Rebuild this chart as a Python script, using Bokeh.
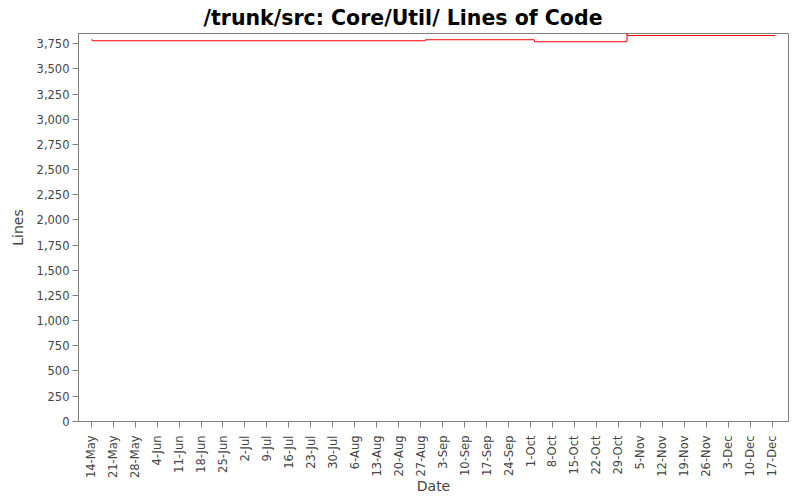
from datetime import datetime
import math
import pandas as pd
from bokeh.plotting import figure
from bokeh.models import Range1d, FixedTicker, SingleIntervalTicker, NumeralTickFormatter
from bokeh.embed import file_html
from bokeh.resources import INLINE

# ---- data ----
title_text = "/trunk/src: Core/Util/ Lines of Code"
x_label = "Date"
y_label = "Lines"

commit_dates = ["2007-05-14 00:00", "2007-05-14 08:00", "2007-08-28 12:00",
                "2007-10-02 06:00", "2007-10-31 18:00", "2007-10-31 22:00",
                "2007-12-18 00:00"]
line_counts = [3790, 3780, 3790, 3770, 3848, 3832, 3832]

tick_labels = ["14-May", "21-May", "28-May", "4-Jun", "11-Jun", "18-Jun", "25-Jun",
               "2-Jul", "9-Jul", "16-Jul", "23-Jul", "30-Jul", "6-Aug", "13-Aug",
               "20-Aug", "27-Aug", "3-Sep", "10-Sep", "17-Sep", "24-Sep", "1-Oct",
               "8-Oct", "15-Oct", "22-Oct", "29-Oct", "5-Nov", "12-Nov", "19-Nov",
               "26-Nov", "3-Dec", "10-Dec", "17-Dec"]
tick_year = "2007"

x_start = datetime(2007, 5, 9, 23)
x_end = datetime(2007, 12, 22, 5)
y_start, y_end = -3, 3852

# ---- derived ----
xs = pd.to_datetime(commit_dates)
tick_dates = pd.to_datetime([t + "-" + tick_year for t in tick_labels], format="%d-%b-%Y")
tick_ms = [float(d.value // 10**6) for d in tick_dates]

FONT = "DejaVu Sans"
GRAY = "#808080"
TXT = "#444444"

p = figure(width=800, height=500, x_axis_type="datetime",
           x_range=Range1d(x_start, x_end), y_range=Range1d(y_start, y_end),
           output_backend="svg", toolbar_location=None,
           min_border_left=78, min_border_right=12, min_border_top=33, min_border_bottom=79)

p.step(xs, line_counts, mode="after", line_color="#ff0000", line_width=1)

p.title.text = title_text
p.title.text_font = FONT
p.title.text_font_size = "20.5px"
p.title.text_font_style = "bold"
p.title.text_color = "#000000"
p.title.align = "left"
p.title.offset = 125
p.title.standoff = 7

p.grid.visible = False
p.outline_line_color = GRAY
p.background_fill_color = "white"
p.border_fill_color = "white"

for ax in (p.xaxis[0], p.yaxis[0]):
    ax.axis_line_color = GRAY
    ax.major_tick_line_color = GRAY
    ax.minor_tick_line_color = None
    ax.major_tick_in = 0
    ax.major_label_text_font = FONT
    ax.major_label_text_font_size = "11.5px"
    ax.major_label_text_color = TXT
    ax.axis_label_text_font = FONT
    ax.axis_label_text_font_size = "14px"
    ax.axis_label_text_font_style = "normal"
    ax.axis_label_text_color = TXT

xa = p.xaxis[0]
xa.ticker = FixedTicker(ticks=tick_ms)
xa.major_label_overrides = {t: l for t, l in zip(tick_ms, tick_labels)}
xa.major_label_orientation = math.pi / 2
xa.major_tick_out = 6
xa.major_label_standoff = 8
xa.axis_label = x_label
xa.axis_label_standoff = -3

ya = p.yaxis[0]
ya.ticker = SingleIntervalTicker(interval=250, num_minor_ticks=0)
ya.formatter = NumeralTickFormatter(format="0,0")
ya.major_tick_out = 6
ya.major_label_standoff = 3
ya.axis_label = y_label
ya.axis_label_standoff = 8

open("out.html", "w").write(file_html(p, INLINE))
